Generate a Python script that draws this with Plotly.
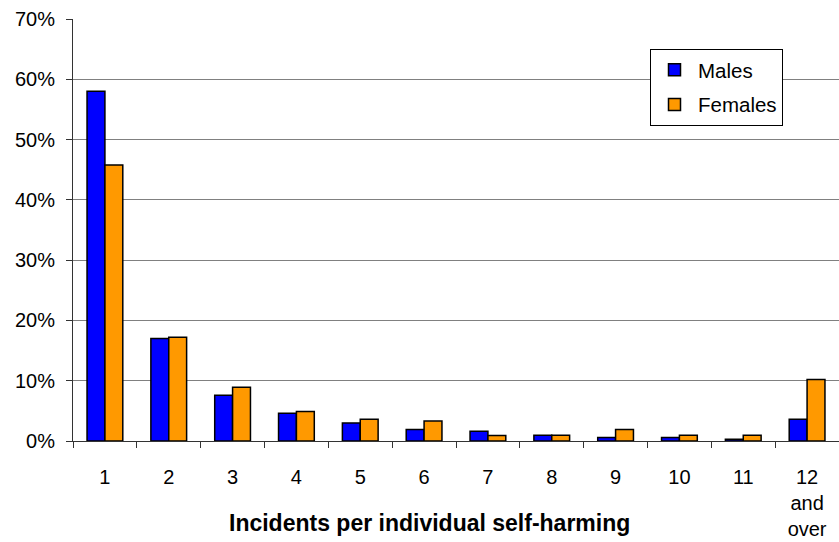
import plotly.graph_objects as go

categories = ["1", "2", "3", "4", "5", "6", "7", "8", "9", "10", "11", "12<br>and<br>over"]
males = [58.0, 17.0, 7.6, 4.6, 3.0, 1.9, 1.6, 0.95, 0.6, 0.6, 0.3, 3.6]
females = [45.8, 17.2, 8.9, 4.9, 3.6, 3.3, 0.9, 0.95, 1.9, 0.95, 0.95, 10.2]
y_ticks = [0, 10, 20, 30, 40, 50, 60, 70]
y_tick_labels = ["0%", "10%", "20%", "30%", "40%", "50%", "60%", "70%"]

FONT = "Liberation Sans, Arial, sans-serif"

fig = go.Figure()
fig.add_trace(go.Bar(x=categories, y=males, name="Males", legendgroup="m",
                     marker=dict(color="#0000FF", line=dict(color="black", width=1.5))))
fig.add_trace(go.Bar(x=categories, y=females, name="Females", legendgroup="f",
                     marker=dict(color="#FF9900", line=dict(color="black", width=1.5))))

fig.update_layout(
    width=839, height=542,
    margin=dict(l=73, r=0, t=19, b=101),
    paper_bgcolor="white", plot_bgcolor="white",
    barmode="group", bargap=0.44, bargroupgap=0,
    font=dict(family=FONT, size=19, color="black"),
    legend=dict(x=(650 - 73) / 766, y=(441 - 49) / 422, xanchor="left", yanchor="top",
                bordercolor="black", borderwidth=1, bgcolor="white",
                font=dict(size=20.5), itemwidth=37, tracegroupgap=5,
                traceorder="grouped"),
    xaxis=dict(type="category", tickson="boundaries", ticks="outside", ticklen=6,
               tickcolor="#333", showline=True, linecolor="#333", linewidth=1,
               showgrid=False, tickfont=dict(size=20), ticklabelstandoff=18,
               automargin=False),
    yaxis=dict(range=[0, 70], tickvals=y_ticks, ticktext=y_tick_labels, ticks="outside",
               ticklen=6, tickcolor="#333", showline=True, linecolor="#333",
               linewidth=1, showgrid=True, gridcolor="#808080", gridwidth=1,
               tickfont=dict(size=20), zeroline=False, automargin=False,
               ticklabelstandoff=7),
    showlegend=True,
)
fig.add_annotation(text="<b>Incidents per individual self-harming</b>",
                   xref="paper", yref="paper", x=(429 - 73) / 766, y=(441 - 523) / 422,
                   xanchor="center", yanchor="middle", showarrow=False,
                   font=dict(size=23, family=FONT))

fig.write_html("out.html", config={"displayModeBar": False},
               post_script="document.body.style.margin='0';document.body.style.overflow='hidden';")
